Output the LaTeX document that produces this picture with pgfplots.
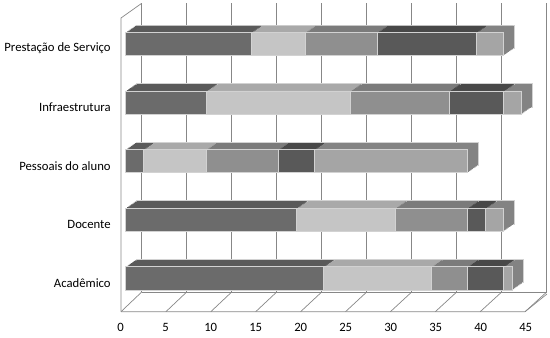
\documentclass[border=0pt]{standalone}
\usepackage{pgfplots}
\pgfplotsset{compat=1.18}
\usepackage{pgfplotstable}
\usepackage{fontspec}
\setmainfont{Carlito}

\definecolor{f1}{HTML}{6B6B6B}\definecolor{t1}{HTML}{5A5A5A}
\definecolor{f2}{HTML}{C5C5C5}\definecolor{t2}{HTML}{A9A9A9}
\definecolor{f3}{HTML}{8F8F8F}\definecolor{t3}{HTML}{7B7B7B}
\definecolor{f4}{HTML}{595959}\definecolor{t4}{HTML}{484848}
\definecolor{f5}{HTML}{A5A5A5}\definecolor{t5}{HTML}{838383}
\definecolor{edge}{HTML}{D2D2D2}
\definecolor{frame}{HTML}{878787}

\pgfplotstableread{
idx s1 s2 s3 s4 s5
0 22 12 4 4 1
1 19 11 8 2 2
2 2 7 8 4 17
3 9 16 11 6 2
4 14 6 8 11 3
}\datatable

\pgfplotsset{common/.style={
  anchor=south west,
  scale only axis, width=405pt, height=292.9pt,
  xmin=0, xmax=45, ymin=-0.5, ymax=4.5,
  xbar stacked, bar width=23.3pt, clip=false}}

% one extruded copy of the whole chart, shifted back in depth
\newcommand\layer[3]{%
\begin{axis}[common, hide axis, at={(125.7pt+#1,30.4pt+#2)},
  every axis plot/.append style={#3}]
\addplot[fill=t1] table[x=s1, y=idx] {\datatable};
\addplot[fill=t2] table[x=s2, y=idx] {\datatable};
\addplot[fill=t3] table[x=s3, y=idx] {\datatable};
\addplot[fill=t4] table[x=s4, y=idx] {\datatable};
\addplot[fill=t5] table[x=s5, y=idx] {\datatable};
\end{axis}}

\begin{document}
\begin{tikzpicture}
\useasboundingbox (0,0) rectangle (550pt,338pt);
% 3-D frame: floor, left wall, back wall gridlines
\begin{scope}[draw=frame, line width=0.7pt]
\draw (121pt,26.3pt) -- (525pt,26.3pt) -- (547pt,44pt);
\draw (141.7pt,46pt) -- (546.7pt,46pt);
\draw (121pt,26.3pt) -- (121pt,320pt) -- (141.7pt,334.7pt);
\foreach \k in {0,...,9}{
  \draw (141.7pt+45*\k pt,46pt) -- (141.7pt+45*\k pt,334.7pt);
  \draw (121pt+44.9*\k pt,26.3pt) -- (141.7pt+45*\k pt,46pt);
}
\end{scope}
\layer{10.5pt}{7.3pt}{draw=edge, line width=0.6pt}
\layer{9.19pt}{6.39pt}{draw=none}
\layer{7.88pt}{5.48pt}{draw=none}
\layer{6.56pt}{4.56pt}{draw=none}
\layer{5.25pt}{3.65pt}{draw=none}
\layer{3.94pt}{2.74pt}{draw=none}
\layer{2.63pt}{1.83pt}{draw=none}
\layer{1.31pt}{0.91pt}{draw=none}
\begin{axis}[common, at={(125.7pt,30.4pt)},
  axis line style={draw=none}, major tick length=0pt,
  xtick={0,5,...,45},
  ytick={0,1,2,3,4},
  yticklabels={Acadêmico,Docente,Pessoais do aluno,Infraestrutura,Prestação de Serviço},
  tick label style={font=\fontsize{12.7}{15}\selectfont},
  xticklabel style={anchor=center, xshift=-5pt, yshift=-19.9pt},
  yticklabel style={xshift=-11.5pt, yshift=-4.5pt},
  /pgf/number format/assume math mode=true,
  every axis plot/.append style={draw=edge, line width=0.8pt},
]
\addplot[fill=f1] table[x=s1, y=idx] {\datatable};
\addplot[fill=f2] table[x=s2, y=idx] {\datatable};
\addplot[fill=f3] table[x=s3, y=idx] {\datatable};
\addplot[fill=f4] table[x=s4, y=idx] {\datatable};
\addplot[fill=f5] table[x=s5, y=idx] {\datatable};
\end{axis}
\end{tikzpicture}
\end{document}
